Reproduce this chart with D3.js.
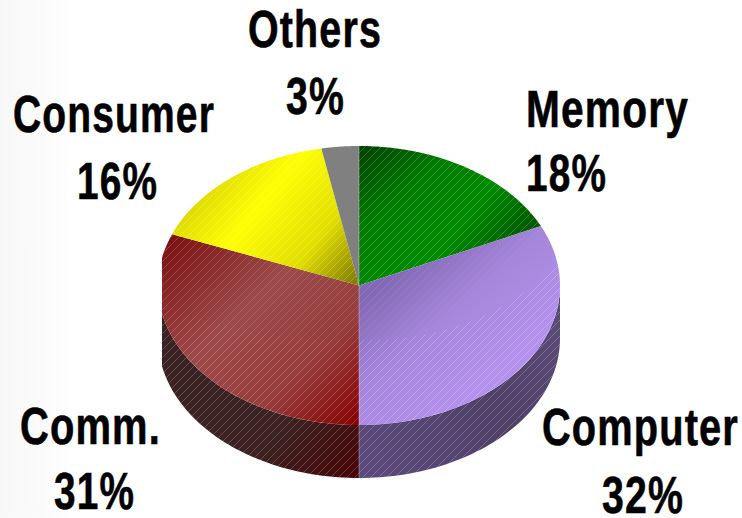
<!DOCTYPE html>
<html>
<head>
<meta charset="utf-8">
<script src="https://cdnjs.cloudflare.com/ajax/libs/d3/7.8.5/d3.min.js"></script>
<style>
  html, body { margin: 0; padding: 0; background: #fff; }
  svg { display: block; }
  text { font-family: "Liberation Sans", Arial, sans-serif; font-weight: bold; fill: #000; stroke: #000; stroke-width: 0.6px; letter-spacing: 1.5px; }
</style>
</head>
<body>
<svg id="chart" width="742" height="518"></svg>
<script>
// Market share by application segment
const categories = ["Memory", "Computer", "Comm.", "Consumer", "Others"];
const shares = [18, 32, 31, 16, 3];

const topColors = [
  [[0, "#004600"], [0.5, "#007c00"], [1, "#008a00"]],
  [[0, "#8468b8"], [0.45, "#a585dc"], [1, "#b391ec"]],
  [[0, "#7c0f10"], [0.4, "#9f4a4a"], [0.72, "#983c3c"], [1, "#880606"]],
  [[0, "#d6d000"], [0.36, "#ffff00"], [0.72, "#e2de00"], [1, "#868000"]],
  [[0, "#808080"], [1, "#808080"]]
];
const sideColors = {
  Computer: [[0, "#5b4a7c"], [0.6, "#4f4068"], [1, "#5a4a76"]],
  "Comm.": [[0, "#3a2222"], [0.65, "#3c2222"], [1, "#480404"]]
};

// Label anchor boxes: left edge, width and baseline for name and percentage
const labelBoxes = [
  { name: [526, 163, 127], pct: [526, 81, 191] },
  { name: [542, 197, 445], pct: [602, 82, 513] },
  { name: [20, 141, 444], pct: [54, 81, 509] },
  { name: [13, 202, 132], pct: [77, 81, 199] },
  { name: [248, 134, 47], pct: [286, 59, 114] }
];

const cx = 359, cy = 285.5, rx = 201, ry = 139.5, depth = 53;
const clipLeft = 162, clipRight = 560;
const svg = d3.select("#chart");
const defs = svg.append("defs");

const pie = d3.pie().sort(null).value(d => d);
const arcs = pie(shares);

// Ellipse point for a pie angle measured clockwise from twelve o'clock
const rim = (a, dy = 0) => [cx + rx * Math.sin(a), cy - ry * Math.cos(a) + dy];
const sweep = (start, end) => d3.range(61).map(k => start + (end - start) * k / 60);
const line = d3.line();

const facePath = d => line([[cx, cy], ...sweep(d.startAngle, d.endAngle).map(a => rim(a))]) + "Z";
const wallPath = (start, end) => {
  const angles = sweep(start, end);
  return line([...angles.map(a => rim(a)), ...angles.slice().reverse().map(a => rim(a, depth))]) + "Z";
};

function addGradient(id, stops, x1, y1, x2, y2) {
  const g = defs.append("linearGradient").attr("id", id)
    .attr("gradientUnits", "userSpaceOnUse")
    .attr("x1", x1).attr("y1", y1).attr("x2", x2).attr("y2", y2);
  stops.forEach(([o, c, a = 1]) => g.append("stop")
    .attr("offset", o).attr("stop-color", c).attr("stop-opacity", a));
}

function addHatch(id, colour, opacity, dash) {
  const p = defs.append("pattern").attr("id", id)
    .attr("patternUnits", "userSpaceOnUse").attr("width", 8).attr("height", 8);
  const l = p.append("path").attr("d", "M-1,9 L9,-1")
    .attr("stroke", colour).attr("stroke-width", 0.7).attr("stroke-opacity", opacity);
  if (dash) l.attr("stroke-dasharray", dash);
}
addHatch("hatchLight", "#fff", 0.3);
addHatch("hatchDark", "#333", 0.45, "1.2 1");

// The pie is trimmed to straight vertical edges at both sides
defs.append("clipPath").attr("id", "pieBounds").append("rect")
  .attr("x", clipLeft).attr("y", 0).attr("width", clipRight - clipLeft).attr("height", 518);

// Page backdrop: a very pale band fading out from the left edge
addGradient("backdrop", [[0, "#f8f8f8"], [0.65, "#fbfbfb"], [1, "#ffffff"]], 0, 0, 72, 0);
svg.append("rect").attr("width", 72).attr("height", 518).attr("fill", "url(#backdrop)");

// Gradient axes for the top face of each slice
const gradientAxes = [
  [368, 148, 440, 235],
  [370, 295, 460, 400],
  [170, 235, 350, 425],
  [200, 170, 348, 288],
  [340, 150, 360, 285]
];
arcs.forEach((d, i) => addGradient(`top${i}`, topColors[i], ...gradientAxes[i]));
addGradient("side0", sideColors.Computer, 360, 470, 560, 330);
addGradient("side1", sideColors["Comm."], 162, 300, 360, 478);
addGradient("memoryRim", [[0, "#003000", 0], [1, "#003000", 0.55]], 490, 190, 535, 225);

const pieLayer = svg.append("g").attr("clip-path", "url(#pieBounds)");

// Side wall: only the part of each slice facing the viewer
const walls = arcs
  .map(d => ({
    start: Math.max(d.startAngle, Math.PI / 2),
    end: Math.min(d.endAngle, 3 * Math.PI / 2)
  }))
  .filter(w => w.end > w.start);

walls.forEach((w, k) => {
  const d = wallPath(w.start, w.end);
  pieLayer.append("path").attr("d", d).attr("fill", `url(#side${k})`);
  pieLayer.append("path").attr("d", d).attr("fill", "url(#hatchLight)");
});

// Top faces
arcs.forEach((d, i) => {
  const shape = () => pieLayer.append("path").attr("d", facePath(d));
  shape().attr("fill", `url(#top${i})`);
  if (i === 0) shape().attr("fill", "url(#memoryRim)");
  if (categories[i] !== "Others") shape().attr("fill", "url(#hatchLight)");

  defs.append("clipPath").attr("id", `clip${i}`)
    .append("path").attr("d", facePath(d));
});

// Darker hatched shade across the far side of the lower two slices
[1, 2].forEach(i => {
  pieLayer.append("ellipse")
    .attr("clip-path", `url(#clip${i})`)
    .attr("cx", cx).attr("cy", 205).attr("rx", i === 1 ? 215 : 290).attr("ry", 136)
    .attr("fill", "url(#hatchDark)");
});

// Pale seam running down the front
pieLayer.append("line")
  .attr("x1", cx).attr("x2", cx)
  .attr("y1", cy - ry).attr("y2", cy + ry + depth)
  .attr("stroke", "#fff").attr("stroke-opacity", 0.3).attr("stroke-width", 1);

// Labels
const labels = svg.append("g").attr("font-size", 51);
const pctText = shares.map(v => `${v}%`);
categories.forEach((name, i) => {
  [[name, labelBoxes[i].name], [pctText[i], labelBoxes[i].pct]].forEach(([t, [x, w, y]]) => {
    labels.append("text").attr("x", x).attr("y", y)
      .attr("textLength", w).attr("lengthAdjust", "spacingAndGlyphs")
      .text(t);
  });
});
</script>
</body>
</html>
